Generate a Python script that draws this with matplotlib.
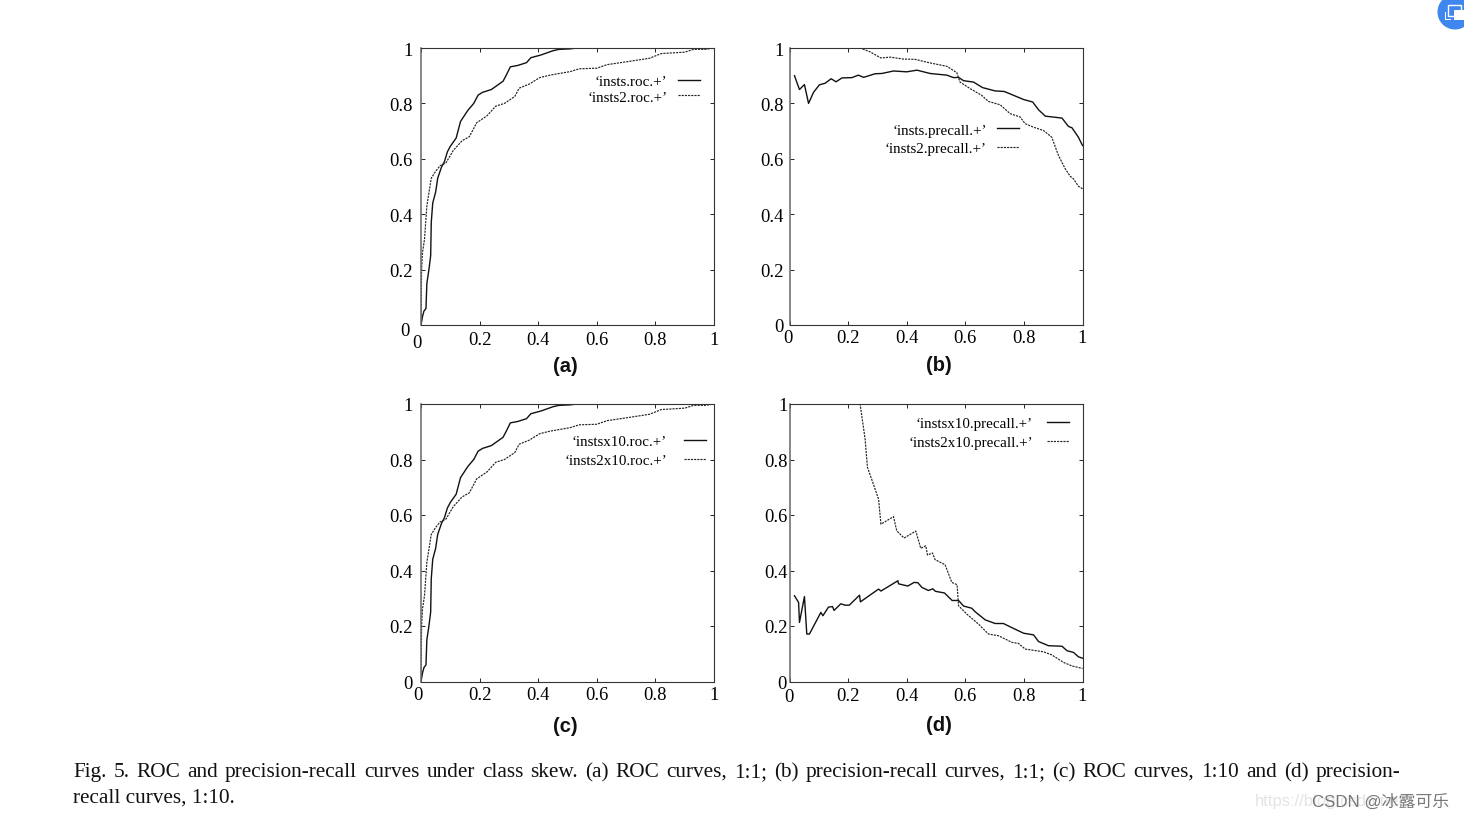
import matplotlib
matplotlib.use('Agg')
import matplotlib.pyplot as plt
from matplotlib.patches import Circle, Rectangle
from matplotlib.transforms import ScaledTranslation

W, H = 1464, 820
plt.rcParams['font.family'] = ['Liberation Serif', 'DejaVu Serif']

# ------------------------------ Data -----------------------------------
tick_values = [0, 0.2, 0.4, 0.6, 0.8, 1]
tick_labels = ['0', '0.2', '0.4', '0.6', '0.8', '1']

# ROC curves are the same under skew, so (a) and (c) share these
roc1_x = [0, 0.005, 0.01, 0.017, 0.02, 0.027, 0.033, 0.035, 0.04, 0.05, 0.057, 0.07, 0.08, 0.09, 0.1, 0.12,
          0.135, 0.16, 0.18, 0.195, 0.21, 0.24, 0.26, 0.28, 0.29, 0.305, 0.33, 0.36, 0.375, 0.41, 0.45, 0.47,
          0.51, 0.53, 1]
roc1_y = [0, 0.03, 0.05, 0.06, 0.15, 0.2, 0.25, 0.37, 0.44, 0.48, 0.53, 0.57, 0.59, 0.625, 0.645, 0.675,
          0.735, 0.775, 0.8, 0.83, 0.84, 0.85, 0.865, 0.88, 0.9, 0.932, 0.937, 0.947, 0.965, 0.975, 0.99, 0.995,
          0.997, 1, 1]
roc2_x = [0, 0.002, 0.005, 0.012, 0.02, 0.035, 0.05, 0.065, 0.085, 0.11, 0.14, 0.165, 0.19, 0.225, 0.255,
          0.285, 0.32, 0.335, 0.37, 0.405, 0.44, 0.51, 0.54, 0.6, 0.635, 0.7, 0.78, 0.82, 0.9, 0.93, 0.97, 1]
roc2_y = [0, 0.2, 0.26, 0.31, 0.43, 0.53, 0.555, 0.575, 0.585, 0.63, 0.665, 0.68, 0.73, 0.755, 0.79,
          0.8, 0.825, 0.855, 0.87, 0.893, 0.902, 0.915, 0.925, 0.927, 0.94, 0.95, 0.963, 0.98, 0.985, 0.995, 0.995, 1]

pr_b1_x = [0.017, 0.034, 0.051, 0.065, 0.082, 0.102, 0.122, 0.142, 0.159, 0.179, 0.213, 0.235, 0.253, 0.292,
           0.315, 0.355, 0.4, 0.435, 0.48, 0.537, 0.56, 0.577, 0.594, 0.628, 0.659, 0.702, 0.733, 0.765, 0.799,
           0.83, 0.85, 0.873, 0.93, 0.952, 0.964, 0.986, 1]
pr_b1_y = [0.9, 0.85, 0.868, 0.8, 0.84, 0.867, 0.873, 0.889, 0.878, 0.892, 0.893, 0.902, 0.894, 0.907,
           0.908, 0.917, 0.914, 0.92, 0.908, 0.902, 0.893, 0.894, 0.882, 0.877, 0.857, 0.845, 0.843, 0.829, 0.814,
           0.805, 0.777, 0.754, 0.747, 0.717, 0.712, 0.678, 0.648]
pr_b2_x = [0, 0.241, 0.275, 0.312, 0.344, 0.389, 0.429, 0.48, 0.537, 0.571, 0.582, 0.617, 0.656, 0.679, 0.719,
           0.753, 0.787, 0.804, 0.833, 0.867, 0.895, 0.918, 0.941, 0.958, 0.969, 0.986, 1]
pr_b2_y = [1, 1, 0.986, 0.964, 0.967, 0.96, 0.959, 0.946, 0.934, 0.911, 0.877, 0.853, 0.829, 0.807, 0.795,
           0.763, 0.751, 0.727, 0.714, 0.702, 0.678, 0.612, 0.564, 0.537, 0.528, 0.501, 0.492]

pr_d1_x = [0.017, 0.031, 0.034, 0.051, 0.059, 0.068, 0.107, 0.114, 0.133, 0.147, 0.152, 0.175, 0.19, 0.204,
           0.239, 0.242, 0.304, 0.312, 0.37, 0.372, 0.404, 0.425, 0.438, 0.452, 0.474, 0.489, 0.498, 0.529, 0.555,
           0.577, 0.594, 0.622, 0.634, 0.668, 0.702, 0.73, 0.759, 0.799, 0.833, 0.85, 0.884, 0.93, 0.947, 0.969,
           0.986, 1]
pr_d1_y = [0.309, 0.285, 0.213, 0.306, 0.171, 0.171, 0.249, 0.237, 0.268, 0.27, 0.256, 0.28, 0.275, 0.275,
           0.311, 0.287, 0.333, 0.326, 0.363, 0.352, 0.344, 0.357, 0.356, 0.339, 0.328, 0.334, 0.325, 0.319, 0.292,
           0.292, 0.272, 0.264, 0.251, 0.222, 0.209, 0.209, 0.194, 0.174, 0.168, 0.144, 0.129, 0.127, 0.111, 0.105,
           0.089, 0.084]
pr_d2_x = [0, 0.241, 0.249, 0.258, 0.266, 0.284, 0.304, 0.312, 0.355, 0.366, 0.391, 0.431, 0.448, 0.465, 0.471,
           0.488, 0.497, 0.531, 0.554, 0.572, 0.577, 0.605, 0.645, 0.679, 0.713, 0.759, 0.782, 0.804, 0.867, 0.895,
           0.935, 0.964, 1]
pr_d2_y = [1, 1, 0.94, 0.874, 0.772, 0.718, 0.657, 0.567, 0.594, 0.543, 0.517, 0.542, 0.48, 0.489, 0.456,
           0.463, 0.439, 0.421, 0.357, 0.349, 0.273, 0.243, 0.207, 0.171, 0.165, 0.141, 0.137, 0.117, 0.107, 0.096,
           0.069, 0.056, 0.047]

caption_line1 = ('Fig. 5. ROC and precision-recall curves under class skew. (a) ROC curves, 1:1; '
                 '(b) precision-recall curves, 1:1; (c) ROC curves, 1:10 and (d) precision-')
caption_line2 = 'recall curves, 1:10.'

# ------------------------------ Panels -----------------------------------
# box = left, right, top, bottom in pixels; key = line right edge, top, gap, row height, font in pixels
panels = [
    dict(name='(a)', box=(421, 714, 49, 326), curves=(roc1_x, roc1_y, roc2_x, roc2_y),
         labels=('‘insts.roc.+’', '‘insts2.roc.+’'), key=(699.5, 75.5, 10, 17, 15),
         name_xy=(565.5, 367), ypad=9, xpad=4, y0=(-3, 4), x0=(-4, 3)),
    dict(name='(b)', box=(789.5, 1082.5, 49, 326), curves=(pr_b1_x, pr_b1_y, pr_b2_x, pr_b2_y),
         labels=('‘insts.precall.+’', '‘insts2.precall.+’'), key=(1019, 124, 10, 20, 15),
         name_xy=(938.5, 366), ypad=7, xpad=3, y0=(0, 0), x0=(-2, 0)),
    dict(name='(c)', box=(421, 714, 405, 682.5), curves=(roc1_x, roc1_y, roc2_x, roc2_y),
         labels=('‘instsx10.roc.+’', '‘insts2x10.roc.+’'), key=(706, 436, 17, 20, 15),
         name_xy=(565.5, 727), ypad=9, xpad=3, y0=(0, 0), x0=(-3, 0)),
    dict(name='(d)', box=(789.5, 1082.5, 405, 682.5), curves=(pr_d1_x, pr_d1_y, pr_d2_x, pr_d2_y),
         labels=('‘instsx10.precall.+’', '‘insts2x10.precall.+’'), key=(1069, 418, 14, 20, 15),
         name_xy=(938.5, 726), ypad=4, xpad=4, y0=(-1, 0), x0=(-1, 1)),
]

fig = plt.figure(figsize=(W / 100, H / 100), dpi=100)


def px_shift(label, dx, dy):
    # nudge a tick label by some pixels, gnuplot puts the zeros off to one side
    label.set_transform(label.get_transform() + ScaledTranslation(dx / 100, -dy / 100, fig.dpi_scale_trans))


for p in panels:
    left, right, top, bottom = p['box']
    ax = fig.add_axes([left / W, 1 - bottom / H, (right - left) / W, (bottom - top) / H])
    x1, y1, x2, y2 = p['curves']
    ax.plot(x1, y1, color='#111111', lw=1.0, label=p['labels'][0])
    ax.plot(x2, y2, color='#222222', lw=0.85, dashes=(1.8, 0.9), label=p['labels'][1])
    ax.set_xlim(0, 1)
    ax.set_ylim(0, 1)
    ax.set_xticks(tick_values, tick_labels)
    ax.set_yticks(tick_values, tick_labels)
    ax.tick_params(axis='x', direction='in', top=True, length=3, width=0.6, labelsize=13.4, pad=p['xpad'])
    ax.tick_params(axis='y', direction='in', right=True, length=3, width=0.6, labelsize=13.4, pad=p['ypad'] - 3)
    for spine in ax.spines.values():
        spine.set_linewidth(0.8)
        spine.set_color('#333333')
    ax.spines['left'].set_linewidth(1.1)
    ax.spines['left'].set_color('#666666')

    px_shift(ax.get_yticklabels()[0], *p['y0'])
    px_shift(ax.get_xticklabels()[0], *p['x0'])

    # key, text on the left of the sample line like gnuplot does it
    key_right, key_top, key_gap, key_row, key_font = p['key']
    ax.legend(loc='upper right', bbox_to_anchor=(key_right / W, 1 - key_top / H), bbox_transform=fig.transFigure,
              frameon=False, markerfirst=False, prop={'size': key_font * 0.72}, borderpad=0, borderaxespad=0,
              handlelength=22 / key_font, handletextpad=key_gap / key_font,
              labelspacing=(key_row - key_font) / key_font)

    fig.text(p['name_xy'][0] / W, 1 - p['name_xy'][1] / H, p['name'], family='Liberation Sans', weight='bold',
             fontsize=14.5, ha='center', va='center', color='#111111')

# ------------------------------ Caption, justified like the paper -----------------------------------
renderer = fig.canvas.get_renderer()
words = [fig.text(0, 0, w, fontsize=15.3, color='#111111') for w in caption_line1.split()]
widths = [t.get_window_extent(renderer).width for t in words]
gap = (1400 - 73 - sum(widths)) / (len(words) - 1)
x_pos = 73
for t, w in zip(words, widths):
    t.set_position((x_pos / W, 1 - 777 / H))
    x_pos += w + gap
fig.text(73 / W, 1 - 803 / H, caption_line2, fontsize=15.3, color='#111111')

# ------------------------------ Page overlays: watermark and the round badge -----------------------------------
fig.text(1255 / W, 1 - 802 / H, 'https://blog.csdn.net/', family='Liberation Sans', fontsize=12, color='#e4e4e4',
         va='center')
fig.text(1312 / W, 1 - 802 / H, 'CSDN @冰露可乐', family=['Liberation Sans', 'Noto Sans CJK SC'], fontsize=12.2,
         color='#777777', va='center')

overlay = fig.add_axes([0, 0, 1, 1], facecolor='none')
overlay.set_xlim(0, W)
overlay.set_ylim(H, 0)
overlay.axis('off')
overlay.add_patch(Circle((1455, 13), 17.5, color='#3f86ee', lw=0))
overlay.add_patch(Rectangle((1448, 6), 13, 11, fill=False, ec='white', lw=1))
overlay.add_patch(Rectangle((1454, 11), 10, 10, color='white', lw=0))
overlay.add_patch(Rectangle((1445, 13), 1.2, 7, color='white', lw=0))
overlay.add_patch(Rectangle((1445, 20), 6, 1.2, color='white', lw=0))

fig.savefig('out.png', dpi=100)
